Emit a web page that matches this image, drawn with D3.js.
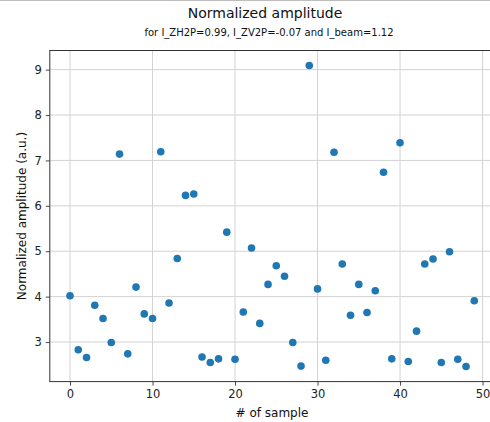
<!DOCTYPE html>
<html>
<head>
<meta charset="utf-8">
<script src="https://cdn.jsdelivr.net/npm/d3@7"></script>
<style>
  html, body { margin: 0; padding: 0; background: #fff; }
  svg { display: block; }
  text { font-family: "DejaVu Sans", sans-serif; }
</style>
</head>
<body>
<svg id="chart" width="490" height="422"></svg>
<script>
const titleText = "Normalized amplitude";
const subtitleText = "for I_ZH2P=0.99, I_ZV2P=-0.07 and I_beam=1.12";
const xLabel = "# of sample";
const yLabel = "Normalized amplitude (a.u.)";

const samples = d3.range(0, 50);
const amplitudes = [
  4.02, 2.83, 2.66, 3.81, 3.52, 2.99, 7.14, 2.74, 4.21, 3.62,
  3.52, 7.19, 3.86, 4.84, 6.23, 6.26, 2.67, 2.55, 2.63, 5.42,
  2.62, 3.66, 5.07, 3.41, 4.27, 4.68, 4.45, 2.99, 2.47, 9.09,
  4.17, 2.60, 7.18, 4.72, 3.59, 4.27, 3.65, 4.13, 6.74, 2.63,
  7.39, 2.57, 3.24, 4.72, 4.83, 2.55, 4.99, 2.62, 2.46, 3.91
];
const xTicks = [0, 10, 20, 30, 40, 50];
const yTicks = [3, 4, 5, 6, 7, 8, 9];

const svg = d3.select("#chart");

// top border line of the image
svg.append("line").attr("x1", 0).attr("x2", 490).attr("y1", 0.5).attr("y2", 0.5)
  .attr("stroke", "#bdbdbd").attr("stroke-width", 1);

const pLeft = 49.8, pRight = 494.5, pTop = 50.5, pBottom = 381.6;

const xMin = -2.45, xMax = 51.45;
const yMin = d3.min(amplitudes), yMax = d3.max(amplitudes);
const yPad = (yMax - yMin) * 0.05;

const x = d3.scaleLinear().domain([xMin, xMax]).range([pLeft, pRight]);
const y = d3.scaleLinear().domain([yMin - yPad, yMax + yPad]).range([pBottom, pTop]);

// grid
const grid = svg.append("g");
grid.selectAll("line.vx").data(xTicks).enter().append("line")
  .attr("x1", d => x(d)).attr("x2", d => x(d)).attr("y1", pTop).attr("y2", pBottom)
  .attr("stroke", "#d3d3d3").attr("stroke-width", 1);
grid.selectAll("line.hy").data(yTicks).enter().append("line")
  .attr("y1", d => y(d)).attr("y2", d => y(d)).attr("x1", pLeft).attr("x2", pRight)
  .attr("stroke", "#d3d3d3").attr("stroke-width", 1);

// points
svg.append("g").selectAll("circle").data(samples).enter().append("circle")
  .attr("cx", d => x(d)).attr("cy", d => y(amplitudes[d])).attr("r", 3.8)
  .attr("fill", "#1f77b4");

// axes
const xAxis = d3.axisBottom(x).tickValues(xTicks).tickSize(4).tickPadding(4).tickFormat(d3.format("d"));
const yAxis = d3.axisLeft(y).tickValues(yTicks).tickSize(4).tickPadding(4).tickFormat(d3.format("d"));

const gx = svg.append("g").attr("transform", `translate(0,${pBottom})`).call(xAxis);
const gy = svg.append("g").attr("transform", `translate(${pLeft},0)`).call(yAxis);
[gx, gy].forEach(g => {
  g.select(".domain").remove();
  g.selectAll(".tick line").attr("stroke", "#333").attr("stroke-width", 0.9);
  g.selectAll(".tick text").attr("fill", "#222").style("font-size", "11.5px")
    .style("font-family", "'DejaVu Sans', sans-serif");
});

// spines
svg.append("rect").attr("x", pLeft).attr("y", pTop).attr("width", pRight - pLeft).attr("height", pBottom - pTop)
  .attr("fill", "none").attr("stroke", "#333").attr("stroke-width", 1);

// titles
svg.append("text").attr("x", 265).attr("y", 18).attr("text-anchor", "middle")
  .style("font-size", "14px").attr("fill", "#111").text(titleText);
svg.append("text").attr("x", 269).attr("y", 36).attr("text-anchor", "middle")
  .style("font-size", "10px").attr("fill", "#111").text(subtitleText);

svg.append("text").attr("x", 272).attr("y", 417).attr("text-anchor", "middle")
  .style("font-size", "12px").attr("fill", "#111").text(xLabel);
svg.append("text").attr("transform", `translate(26,${(pTop + pBottom) / 2}) rotate(-90)`)
  .attr("text-anchor", "middle").style("font-size", "12px").attr("fill", "#111").text(yLabel);
</script>
</body>
</html>
